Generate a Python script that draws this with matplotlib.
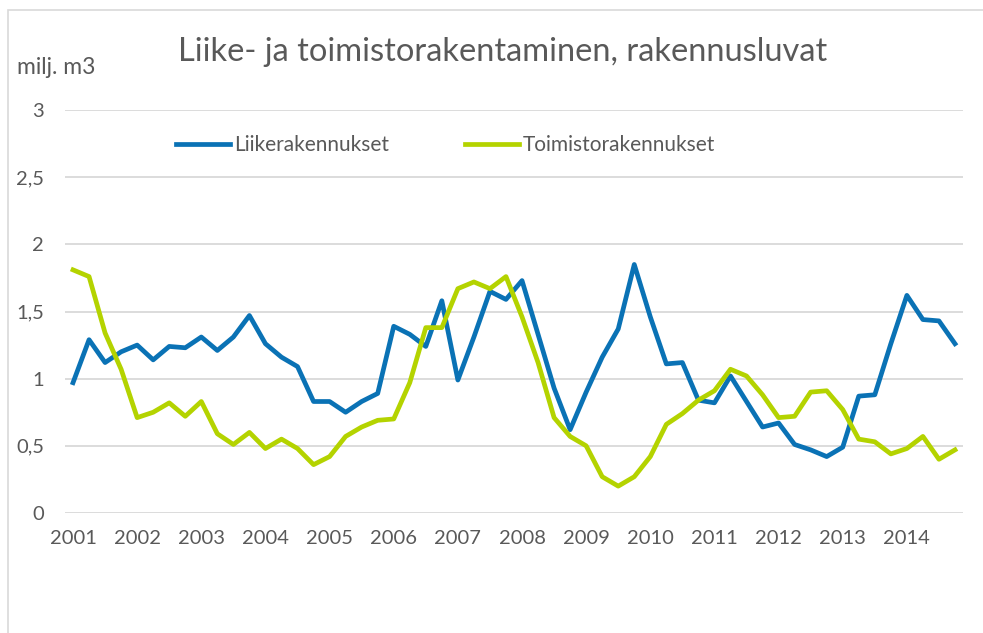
import matplotlib
matplotlib.use('Agg')
import matplotlib.pyplot as plt
from matplotlib.patches import Rectangle

# Quarterly data 2001-2014, milj. m3
years = list(range(2001, 2015))
liike = [0.97, 1.29, 1.12, 1.20, 1.25, 1.14, 1.24, 1.23, 1.31, 1.21, 1.31, 1.47,
         1.26, 1.16, 1.09, 0.83, 0.83, 0.75, 0.83, 0.89, 1.39, 1.33, 1.24, 1.58,
         0.99, 1.31, 1.65, 1.59, 1.73, 1.33, 0.93, 0.62, 0.90, 1.16, 1.37, 1.85,
         1.46, 1.11, 1.12, 0.84, 0.82, 1.02, 0.83, 0.64, 0.67, 0.51, 0.47, 0.42,
         0.49, 0.87, 0.88, 1.26, 1.62, 1.44, 1.43, 1.26]
toimisto = [1.81, 1.76, 1.34, 1.07, 0.71, 0.75, 0.82, 0.72, 0.83, 0.59, 0.51, 0.60,
            0.48, 0.55, 0.48, 0.36, 0.42, 0.57, 0.64, 0.69, 0.70, 0.97, 1.38, 1.38,
            1.67, 1.72, 1.67, 1.76, 1.46, 1.12, 0.71, 0.57, 0.50, 0.27, 0.20, 0.27,
            0.42, 0.66, 0.74, 0.84, 0.91, 1.07, 1.02, 0.88, 0.71, 0.72, 0.90, 0.91,
            0.77, 0.55, 0.53, 0.44, 0.48, 0.57, 0.40, 0.47]
y_ticks = [0, 0.5, 1, 1.5, 2, 2.5, 3]
y_labels = ['0', '0,5', '1', '1,5', '2', '2,5', '3']

plt.rcParams['font.family'] = ['Lato', 'DejaVu Sans']
txt = '#595959'
blue = '#0a72b5'
green = '#b4d300'

fig = plt.figure(figsize=(9.83, 6.33), dpi=100)
ax = fig.add_axes([65 / 983, 120 / 633, 898 / 983, 403 / 633])

# outer chart frame
fig.patches.append(Rectangle((8 / 983, -0.1), 1.2, 1 - 10 / 633 + 0.1,
                             transform=fig.transFigure, fill=False,
                             edgecolor='#d9d9d9', linewidth=1.2))

x = range(len(liike))
ax.plot(x, liike, color=blue, linewidth=3.4, label='Liikerakennukset')
ax.plot(x, toimisto, color=green, linewidth=3.4, label='Toimistorakennukset')

ax.set_xlim(-0.5, len(liike) - 0.5)
ax.set_ylim(0, 3)
ax.set_yticks(y_ticks)
ax.set_yticklabels(y_labels)
ax.set_xticks(range(0, len(liike), 4))
ax.set_xticklabels([str(y) for y in years])
ax.tick_params(axis='both', length=0, labelsize=14.5, colors=txt)
ax.tick_params(axis='y', pad=15)
ax.tick_params(axis='x', pad=12)
ax.grid(axis='y', color='#d9d9d9', linewidth=1.3)
ax.set_axisbelow(True)
for s in ax.spines.values():
    s.set_visible(False)

fig.text(503 / 983, 1 - 52 / 633, 'Liike- ja toimistorakentaminen, rakennusluvat',
         ha='center', va='center', fontsize=23.5, color=txt)
fig.text(17 / 983, 1 - 68 / 633, 'milj. m3', ha='left', va='center',
         fontsize=16.5, color=txt)

ax.legend(loc='center', bbox_to_anchor=(0.424, 0.913), ncol=2, frameon=False,
          fontsize=15, labelcolor=txt, handlelength=2.6, handletextpad=0.2,
          columnspacing=3.6)

fig.savefig('out.png', dpi=100)
